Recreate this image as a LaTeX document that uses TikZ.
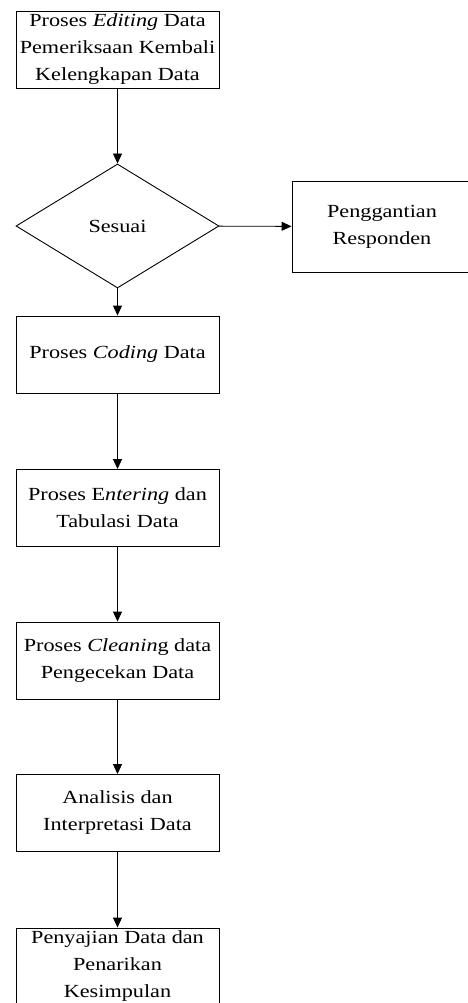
\documentclass[tikz,border=0pt]{standalone}
\usepackage{fontspec}
\setmainfont{Liberation Serif}[FakeStretch=1.2]
\usetikzlibrary{shapes.geometric,arrows.meta}
\begin{document}
\begin{tikzpicture}[x=1pt,y=-1pt,
  every node/.style={font=\fontsize{18.5}{27}\selectfont, align=center},
  procbox/.style={draw, line width=0.9pt, rectangle, minimum width=203pt, minimum height=77pt, inner sep=0pt},
  decision/.style={draw, line width=0.9pt, diamond, aspect=1.64, minimum width=203pt, minimum height=124pt, inner sep=0pt},
  flow/.style={line width=0.9pt, -{Triangle[length=10pt,width=9pt]}}]
\useasboundingbox (0,0) rectangle (467,1003);
\node[procbox] (edit) at (117.5,49.5) {Proses \textit{Editing} Data\\Pemeriksaan Kembali\\Kelengkapan Data};
\node[decision] (sesuai) at (117.5,226) {Sesuai};
\node[procbox, minimum width=180pt, minimum height=91pt] (ganti) at (382,226.5) {Penggantian\\Responden};
\node[procbox] (coding) at (117.5,354.5) {Proses \textit{Coding} Data};
\node[procbox] (entering) at (117.5,508) {Proses E\textit{ntering} dan\\Tabulasi Data};
\node[procbox] (cleaning) at (117.5,660.5) {Proses \textit{Cleanin}g data\\Pengecekan Data};
\node[procbox] (analisis) at (117.5,813) {Analisis dan\\Interpretasi Data};
\node[procbox] (sajian) at (117.5,966.5) {Penyajian Data dan\\Penarikan\\Kesimpulan};
\draw[flow] (edit) -- (sesuai);
\draw[flow] (sesuai) -- (ganti);
\draw[flow] (sesuai) -- (coding);
\draw[flow] (coding) -- (entering);
\draw[flow] (entering) -- (cleaning);
\draw[flow] (cleaning) -- (analisis);
\draw[flow] (analisis) -- (sajian);
\end{tikzpicture}
\end{document}
